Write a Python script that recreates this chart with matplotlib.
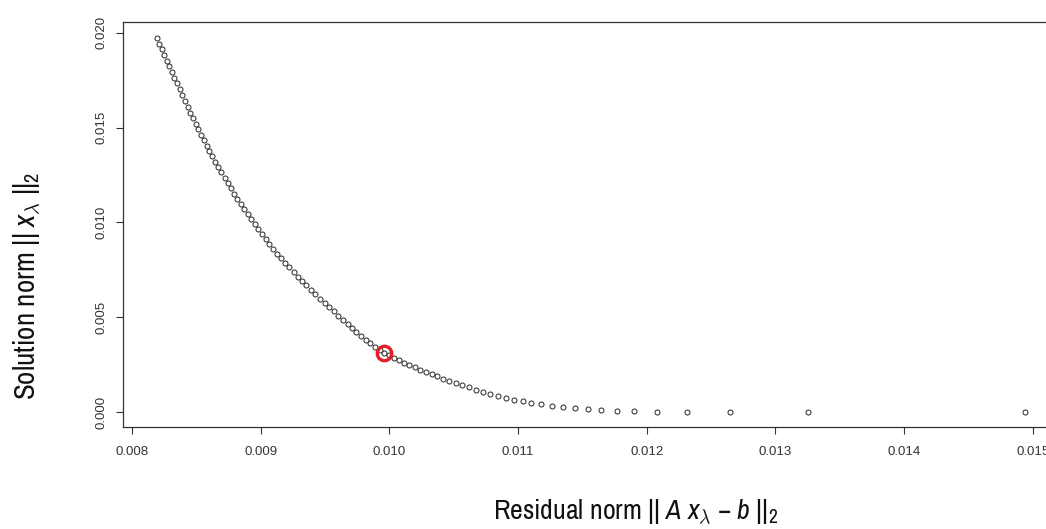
import matplotlib
matplotlib.use('Agg')
import matplotlib.pyplot as plt
from matplotlib import font_manager as fm

# ---------------- data ----------------
residual_norm = [
    0.0081943, 0.0082134, 0.0082325, 0.0082517, 0.0082708, 0.0082899, 0.0083090, 0.0083295,
    0.0083500, 0.0083706, 0.0083911, 0.0084116, 0.0084321, 0.0084526, 0.0084731, 0.0084937,
    0.0085142, 0.0085347, 0.0085572, 0.0085796, 0.0086021, 0.0086245, 0.0086479, 0.0086713,
    0.0086947, 0.0087192, 0.0087437, 0.0087682, 0.0087937, 0.0088191, 0.0088446, 0.0088714,
    0.0088981, 0.0089249, 0.0089528, 0.0089808, 0.0090088, 0.0090382, 0.0090675, 0.0090969,
    0.0091278, 0.0091586, 0.0091910, 0.0092234, 0.0092559, 0.0092883, 0.0093207, 0.0093547,
    0.0093887, 0.0094246, 0.0094604, 0.0094962, 0.0095321, 0.0095679, 0.0096037, 0.0096395,
    0.0096754, 0.0097112, 0.0097432, 0.0097798, 0.0098163, 0.0098528, 0.0098885, 0.0099243,
    0.0099585, 0.0099958, 0.0100347, 0.0100743, 0.0101147, 0.0101559, 0.0101979, 0.0102406,
    0.0102841, 0.0103284, 0.0103735, 0.0104201, 0.0104675, 0.0105165, 0.0105670, 0.0106191,
    0.0106727, 0.0107279, 0.0107854, 0.0108445, 0.0109028, 0.0109688, 0.0110349, 0.0111048,
    0.0111787, 0.0112603, 0.0113497, 0.0114429, 0.0115401, 0.0116450, 0.0117655, 0.0119053,
    0.0120802, 0.0123134, 0.0126475, 0.0132537, 0.0149402,
]
solution_norm = [
    0.019720, 0.019421, 0.019122, 0.018823, 0.018523, 0.018224, 0.017935, 0.017628,
    0.017322, 0.017016, 0.016710, 0.016403, 0.016097, 0.015792, 0.015500, 0.015207,
    0.014915, 0.014631, 0.014342, 0.014052, 0.013763, 0.013485, 0.013200, 0.012914,
    0.012636, 0.012353, 0.012071, 0.011793, 0.011517, 0.011240, 0.010966, 0.010694,
    0.010422, 0.010156, 0.009890, 0.009624, 0.009368, 0.009109, 0.008850, 0.008607,
    0.008356, 0.008110, 0.007868, 0.007627, 0.007385, 0.007143, 0.006911, 0.006680,
    0.006449, 0.006206, 0.005963, 0.005744, 0.005525, 0.005306, 0.005087, 0.004869,
    0.004650, 0.004431, 0.004234, 0.004018, 0.003818, 0.003622, 0.003448, 0.003274,
    0.003111, 0.002988, 0.002859, 0.002728, 0.002606, 0.002484, 0.002360, 0.002235,
    0.002118, 0.001999, 0.001879, 0.001756, 0.001644, 0.001528, 0.001410, 0.001296,
    0.001177, 0.001064, 0.000958, 0.000849, 0.000743, 0.000658, 0.000572, 0.000481,
    0.000406, 0.000324, 0.000256, 0.000185, 0.000142, 0.000095, 0.000070, 0.000042,
    0.000026, 0.000016, 0.000008, 0.000003, 0.000001,
]
corner_index = 64  # highlighted point (red ring)

x_ticks = [0.008, 0.009, 0.010, 0.011, 0.012, 0.013, 0.014, 0.015]
x_tick_labels = ["0.008", "0.009", "0.010", "0.011", "0.012", "0.013", "0.014", "0.015"]
y_ticks = [0.000, 0.005, 0.010, 0.015, 0.020]
y_tick_labels = ["0.000", "0.005", "0.010", "0.015", "0.020"]

x_label = r"Residual norm || $A\ x_{\lambda}$ $-$ $b$ ||$_2$"
y_label = r"Solution norm || $x_{\lambda}$ ||$_2$"

# ---------------- fonts ----------------
def pick(fams):
    for f in fams:
        try:
            fm.findfont(fm.FontProperties(family=f), fallback_to_default=False)
            return f
        except Exception:
            pass
    return 'DejaVu Sans'

tick_font = pick(['Liberation Sans', 'Arial', 'DejaVu Sans'])

# look for a narrow / condensed sans face for the axis titles
label_family, label_stretch = None, 'normal'
for e in fm.fontManager.ttflist:
    if 'Narrow' in e.name and e.style == 'normal' and str(e.weight) in ('400', 'normal', 'regular'):
        label_family = e.name
        break
if label_family is None:
    for e in fm.fontManager.ttflist:
        if e.name == 'DejaVu Sans' and 'condensed' in str(e.stretch) and e.style == 'normal':
            label_family, label_stretch = 'DejaVu Sans', 'condensed'
            break
if label_family is None:
    label_family = tick_font

suffix = '' if label_stretch == 'normal' else ':stretch=' + label_stretch

plt.rcParams['font.family'] = [tick_font, 'DejaVu Sans']
plt.rcParams['mathtext.fontset'] = 'custom'
plt.rcParams['mathtext.rm'] = label_family + suffix
plt.rcParams['mathtext.it'] = label_family + ':italic' + suffix
plt.rcParams['mathtext.bf'] = label_family + ':bold' + suffix

# ---------------- figure ----------------
W, H = 1046, 529
fig = plt.figure(figsize=(W / 100, H / 100), dpi=100)
fig.patch.set_facecolor('white')

left_px, right_px, top_px, bottom_px = 122.7, 1060.0, 22.0, 427.0
ax = fig.add_axes([left_px / W, (H - bottom_px) / H,
                   (right_px - left_px) / W, (bottom_px - top_px) / H])

ax.plot(residual_norm, solution_norm, linestyle='none', marker='o', markersize=3.6,
        markerfacecolor='none', markeredgecolor='#333333', markeredgewidth=0.75)
ax.plot([residual_norm[corner_index]], [solution_norm[corner_index]], linestyle='none',
        marker='o', markersize=10.4, markerfacecolor='none',
        markeredgecolor='#e41e26', markeredgewidth=2.4)

ax.set_xlim(0.0079277, 0.0152122)
ax.set_ylim(-0.000791, 0.020564)

ax.set_xticks(x_ticks)
ax.set_xticklabels(x_tick_labels)
ax.set_yticks(y_ticks)
ax.set_yticklabels(y_tick_labels)

for sp in ax.spines.values():
    sp.set_color('#333333')
    sp.set_linewidth(0.9)

ax.tick_params(axis='both', direction='out', length=5, width=0.8, color='#333333',
               labelsize=9.5, labelcolor='#333333')
ax.tick_params(axis='x', pad=8.5)
ax.tick_params(axis='y', pad=6)
for lab in ax.get_yticklabels():
    lab.set_rotation(90)
    lab.set_va('center')
    lab.set_ha('right')

# axis titles placed as in the reference
lp = fm.FontProperties(family=label_family, stretch=label_stretch, size=17)
xt = fig.text(635.5 / W, (H - 520) / H, x_label, ha='center', va='baseline',
              fontproperties=lp, color='#111111')
yt = fig.text(36.5 / W, (H - 286) / H, y_label, ha='center', va='baseline',
              rotation=90, rotation_mode='anchor',
              fontproperties=lp.copy(), color='#111111')

renderer = fig.canvas.get_renderer()
for t, target, dim in ((xt, 285.0, 'w'), (yt, 228.0, 'h')):
    for _ in range(3):
        bb = t.get_window_extent(renderer=renderer)
        cur = bb.width if dim == 'w' else bb.height
        if cur > 0:
            t.set_fontsize(t.get_fontsize() * target / cur)

fig.savefig('out.png', dpi=100, facecolor='white')
